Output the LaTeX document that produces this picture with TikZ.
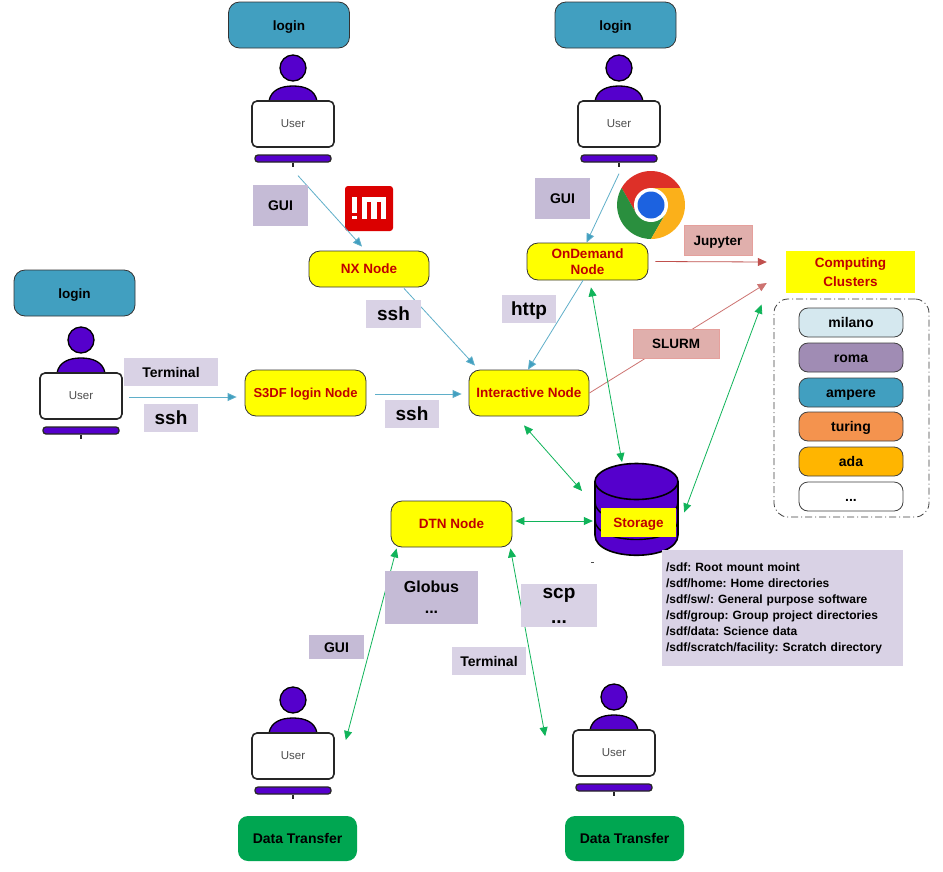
\documentclass[tikz,border=0pt]{standalone}
\usepackage{fontspec}
\setmainfont{Liberation Sans}
\usetikzlibrary{arrows.meta}
\definecolor{loginblue}{HTML}{419FC0}
\definecolor{userpurple}{HTML}{5500CC}
\definecolor{nodered}{HTML}{C00000}
\definecolor{lilacA}{HTML}{C5BBD6}
\definecolor{lilacB}{HTML}{D9D2E5}
\definecolor{rosefill}{HTML}{E0AFAC}
\definecolor{roseedge}{HTML}{E5A09C}
\definecolor{linkblue}{HTML}{5FAFC9}
\definecolor{linkred}{HTML}{C0504D}
\definecolor{linkgreen}{HTML}{10B45A}
\definecolor{dtgreen}{HTML}{00A651}
\definecolor{milanoc}{HTML}{D5E8EF}
\definecolor{romac}{HTML}{A08CB4}
\definecolor{turingc}{HTML}{F4934E}
\definecolor{adac}{HTML}{FFB500}
\definecolor{pureyellow}{HTML}{FFFF00}
\definecolor{logored}{HTML}{DB0000}
\definecolor{chromered}{HTML}{DD3028}
\definecolor{chromegreen}{HTML}{2A8F3E}
\definecolor{chromeyellow}{HTML}{FBB01A}
\definecolor{chromeblue}{HTML}{1C62E0}
\tikzset{
  oneline/.style={text height=12pt,text depth=2pt},
  loginbox/.style={oneline,fill=loginblue,draw=black!80,text=black,rounded corners=11pt,inner sep=0pt,font=\fontsize{13.5}{16}\bfseries,align=center,minimum width=121pt,minimum height=46pt,line width=.8pt},
  yellownode/.style={text height=11pt,text depth=3pt,draw=black!80,fill=pureyellow,rounded corners=11pt,inner sep=0pt,font=\fontsize{13.5}{18}\bfseries,text=nodered,align=center,minimum width=120pt,minimum height=46pt,line width=.8pt},
  greenbox/.style={oneline,draw=none,fill=dtgreen,rounded corners=10pt,inner sep=0pt,font=\fontsize{14}{16}\bfseries,text=black,minimum width=119pt,minimum height=45pt},
  lab/.style={oneline,fill=#1,inner sep=0pt,font=\fontsize{14}{16}\bfseries,align=center},
  biglab/.style={lab=#1,font=\fontsize{19}{24}\bfseries,text height=15pt,text depth=3pt},
  multiline/.style={text height=,text depth=},
  redlab/.style={oneline,fill=rosefill,draw=roseedge,line width=.8pt,inner sep=0pt,font=\fontsize{13.5}{16}\bfseries},
  cluster/.style={oneline,fill=#1,draw=black!75,line width=.8pt,rounded corners=9pt,minimum width=104pt,minimum height=29pt,inner sep=0pt,font=\fontsize{14}{16}\bfseries},
  bluelink/.style={draw=linkblue,line width=.8pt,-{Triangle[length=9pt,width=8pt,fill=loginblue]}},
  redlink/.style={draw=linkred,line width=.8pt,-{Triangle[length=9pt,width=8pt]}},
  greenlink/.style={draw=linkgreen,line width=.8pt,{Triangle[length=9pt,width=8pt]}-{Triangle[length=9pt,width=8pt]}},
  userhead/.style={circle,draw=black,fill=userpurple,line width=1.3pt,minimum size=26pt,inner sep=0pt},
  userscreen/.style={draw=black!85,fill=white,line width=1.6pt,rounded corners=5pt,minimum width=82pt,minimum height=46pt,inner sep=0pt,font=\fontsize{11.5}{13}\selectfont,text=black!70},
  userbar/.style={draw=black!85,fill=userpurple,line width=1.3pt,rounded corners=3pt,minimum width=76pt,minimum height=7pt,inner sep=0pt},
}
% name, centre x, top of head y
\newcommand{\userfig}[3]{%
  \draw[black,line width=1.3pt,fill=userpurple] (#2-24,#3+46) .. controls (#2-22,#3+35) and (#2-12,#3+31) .. (#2,#3+31) .. controls (#2+12,#3+31) and (#2+22,#3+35) .. (#2+24,#3+46);
  \node[userhead] (#1head) at (#2,#3+13) {};
  \node[userscreen] (#1) at (#2,#3+69) {User};
  \node[userbar] (#1bar) at (#2,#3+103.5) {};
  \draw[black!85,line width=1.1pt] (#1bar.south) -- ++(0,4);
}
\begin{document}
\begin{tikzpicture}[x=1pt,y=-1pt]
\useasboundingbox[fill=white] (0,0) rectangle (943,871);

% login boxes
\node[loginbox] (loginA) at (289,25) {login};
\node[loginbox] (loginB) at (615.5,25) {login};
\node[loginbox] (loginC) at (74.5,293) {login};

% users
\userfig{userA}{293}{55}
\userfig{userB}{619}{55}
\userfig{userC}{81}{327}
\userfig{userD}{293}{687}
\userfig{userE}{614}{684}

% service nodes
\node[yellownode,minimum height=36pt] (nx) at (369,269) {NX Node};
\node[yellownode,multiline,minimum height=37pt,minimum width=121pt,font=\fontsize{13.5}{17.5}\bfseries] (ondemand) at (587.5,261.5) {OnDemand\\[-1pt]Node};
\node[yellownode,minimum width=121pt,font=\fontsize{13}{16}\bfseries] (login) at (305.5,393) {S3DF login Node};
\node[yellownode] (inter) at (529,393) {Interactive Node};
\node[yellownode,minimum width=121pt] (dtn) at (451.5,524) {DTN Node};

% storage
\coordinate (storetop) at (636.5,483);
\fill[userpurple,draw=black,line width=1.6pt] (595,483) -- (595,535)
  .. controls (595,562) and (678,562) .. (678,535) -- (678,483) -- cycle;
\draw[black,line width=1.4pt] (595,502) .. controls (595,528) and (678,528) .. (678,502);
\draw[black,line width=1.4pt] (595,520) .. controls (595,546) and (678,546) .. (678,520);
\draw[black,line width=1.6pt,fill=userpurple] (636.5,481.5) ellipse [x radius=41.5pt,y radius=18pt];
\node[oneline,fill=pureyellow,minimum width=75pt,minimum height=29pt,inner sep=0pt,font=\fontsize{13.5}{16}\bfseries,text=nodered] (storage) at (638.5,522.5) {Storage};
\fill[black!70] (590.5,561.5) rectangle (594,563);

% clusters
\node[fill=pureyellow,minimum width=129pt,minimum height=42pt,inner sep=0pt,font=\fontsize{13.5}{18.5}\bfseries,text=nodered,align=center] (clusters) at (850.5,272) {Computing\\Clusters};
\node[draw=black!75,dash pattern=on 7pt off 3pt on 1pt off 3pt,rounded corners=14pt,minimum width=155pt,minimum height=218pt,inner sep=0pt,line width=.8pt] (clusterbox) at (851.5,408) {};
\node[cluster=milanoc] (milano) at (851,322.5) {milano};
\node[cluster=romac] (roma) at (851,357.5) {roma};
\node[cluster=loginblue] (ampere) at (851,392.5) {ampere};
\node[cluster=turingc] (turing) at (851,426.5) {turing};
\node[cluster=adac] (ada) at (851,461.5) {ada};
\node[cluster=white] (more) at (851,496.5) {...};

% data transfer
\node[greenbox] (dtA) at (297.5,838.5) {Data Transfer};
\node[greenbox] (dtB) at (624.5,838.5) {Data Transfer};

% NoMachine logo
\fill[logored,rounded corners=3pt] (345,186) rectangle (393,231);
\fill[white] (351.7,197.3) rectangle (356.7,212.7);
\fill[white] (351.7,216) rectangle (356.7,219.3);
\fill[white] (361.7,197.3) rectangle (386,219.3);
\fill[logored] (366.7,201.7) rectangle (370.7,219.3);
\fill[logored] (377.3,201.7) rectangle (381.3,219.3);

% Chrome logo
\begin{scope}[shift={(651,205)},x=1pt,y=1pt]
  \fill[chromered] (0,17) -- (29.4,17) arc[start angle=30,end angle=150,radius=34] -- (-14.7,-8.5) -- cycle;
  \fill[chromegreen] (-14.7,-8.5) -- (-29.4,17) arc[start angle=150,end angle=270,radius=34] -- (14.7,-8.5) -- cycle;
  \fill[chromeyellow] (14.7,-8.5) -- (0,-34) arc[start angle=270,end angle=390,radius=34] -- (0,17) -- cycle;
  \fill[white] (0,0) circle[radius=17];
  \fill[chromeblue] (0,0) circle[radius=13.5];
\end{scope}

% connectors (xshift/yshift are on the page: yshift up is positive)
\draw[bluelink] ([xshift=5pt,yshift=-13pt]userAbar.south) -- ([xshift=-7pt,yshift=4pt]nx.north);
\draw[bluelink] ([xshift=35pt,yshift=-1pt]nx.south) -- ([xshift=-54pt,yshift=4pt]inter.north);
\draw[bluelink] ([xshift=6pt,yshift=-1pt]userC.east) -- ([xshift=-8pt,yshift=-4pt]login.west);
\draw[bluelink] ([xshift=9pt,yshift=-1pt]login.east) -- ([xshift=-7pt,yshift=-1pt]inter.west);
\draw[bluelink] ([yshift=-11pt]userBbar.south) -- ([xshift=-1pt]ondemand.north);
\draw[bluelink] ([xshift=-4.5pt]ondemand.south) -- ([xshift=-1pt]inter.north);
\draw[redlink] ([xshift=7pt]ondemand.east) -- ([xshift=-19pt,yshift=10pt]clusters.west);
\draw[redlink,draw=linkred!80] (inter.east) -- ([xshift=-19pt,yshift=-11pt]clusters.west);
\draw[greenlink] ([xshift=3.5pt,yshift=-7pt]ondemand.south) -- ([xshift=-14.5pt,yshift=21pt]storetop);
\draw[greenlink] ([xshift=-5pt,yshift=-9pt]inter.south) -- ([xshift=-54.5pt,yshift=-8pt]storetop);
\draw[greenlink] ([xshift=3pt,yshift=3pt]dtn.east) -- ([xshift=-8pt,yshift=1.5pt]storage.west);
\draw[greenlink] ([xshift=-12pt,yshift=-6pt]clusterbox.north west) -- ([xshift=8pt,yshift=10pt]storage.east);
\draw[greenlink] ([xshift=6pt,yshift=-1pt]dtn.south west) -- ([xshift=11pt,yshift=16pt]userD.east);
\draw[greenlink] ([xshift=-2pt,yshift=-1pt]dtn.south east) -- ([xshift=-27pt,yshift=-7pt]userE.north west);

% labels
\node[lab=lilacA,minimum width=55pt,minimum height=41pt] (guiA) at (280.5,205.5) {GUI};
\node[lab=lilacA,minimum width=55pt,minimum height=41pt] (guiB) at (562.5,198.5) {GUI};
\node[lab=lilacB,minimum width=94pt,minimum height=28pt] (termA) at (171,372) {Terminal};
\node[biglab=lilacB,minimum width=54pt,minimum height=28pt] (sshA) at (171,418) {ssh};
\node[biglab=lilacB,minimum width=55pt,minimum height=28pt] (sshB) at (393.5,314) {ssh};
\node[biglab=lilacB,minimum width=54pt,minimum height=28pt] (sshC) at (412,414) {ssh};
\node[biglab=lilacB,minimum width=54pt,minimum height=28pt] (http) at (529,309) {http};
\node[redlab,minimum width=68pt,minimum height=30pt] (jupyter) at (718,240) {Jupyter};
\node[redlab,minimum width=86pt,minimum height=29pt] (slurm) at (676,343.5) {SLURM};
\node[lab=lilacA,multiline,font=\fontsize{16}{21}\bfseries,minimum width=93pt,minimum height=53pt] (globus) at (431.5,597.5) {Globus\\...};
\node[lab=lilacB,multiline,font=\fontsize{19}{25}\bfseries,minimum width=76pt,minimum height=43pt] (scp) at (559,605.5) {scp\\...};
\node[lab=lilacB,minimum width=74pt,minimum height=28pt] (termB) at (489,661) {Terminal};
\node[lab=lilacA,minimum width=55pt,minimum height=24pt] (guiC) at (336.5,647) {GUI};
\node[lab=lilacB,multiline,font=\fontsize{12}{16}\bfseries\frenchspacing,align=left,minimum width=241pt,minimum height=116pt,text width=233pt] (paths) at (782.5,608) {/sdf: Root mount moint\\
/sdf/home: Home directories\\
/sdf/sw/: General purpose software\\
/sdf/group: Group project directories\\
/sdf/data: Science data\\
/sdf/scratch/facility: Scratch directory};
\end{tikzpicture}
\end{document}
